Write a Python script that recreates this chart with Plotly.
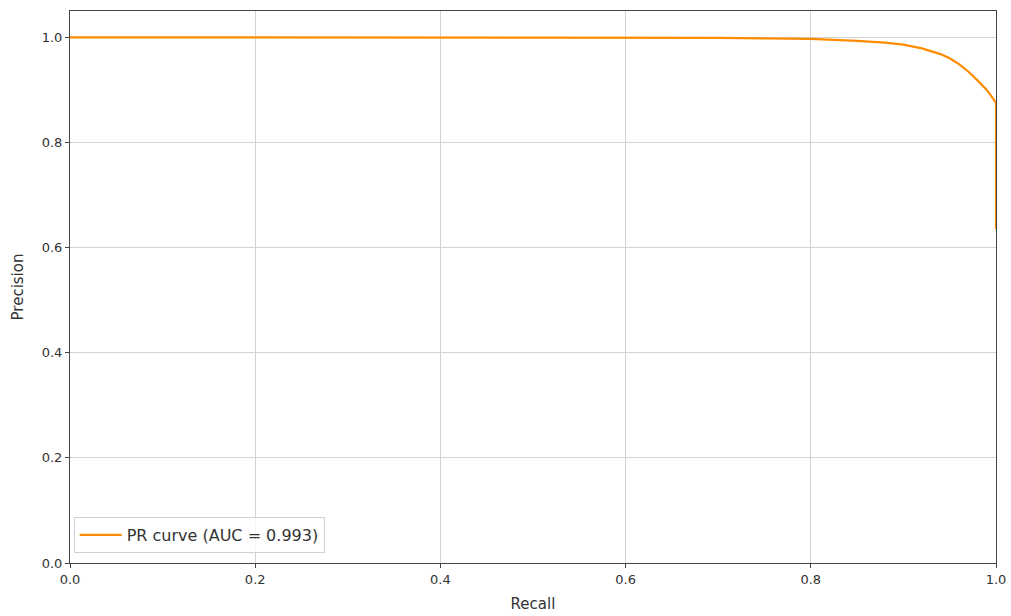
import plotly.graph_objects as go

recall = [0.0, 0.1, 0.2, 0.3, 0.4, 0.5, 0.6, 0.7, 0.75, 0.8, 0.85, 0.88, 0.9,
          0.92, 0.94, 0.95, 0.96, 0.97, 0.98, 0.99, 0.995, 1.0, 1.0]
precision = [1.0, 1.0, 1.0, 1.0, 1.0, 1.0, 0.9995, 0.999, 0.998, 0.997, 0.993,
             0.99, 0.986, 0.979, 0.968, 0.96, 0.949, 0.935, 0.918, 0.9, 0.888,
             0.875, 0.635]
tick_vals = [0.0, 0.2, 0.4, 0.6, 0.8, 1.0]
tick_text = ["0.0", "0.2", "0.4", "0.6", "0.8", "1.0"]

fig = go.Figure()
fig.add_trace(go.Scatter(x=recall, y=precision, mode="lines",
                         line=dict(color="#FF8C00", width=2.2),
                         name="PR curve (AUC = 0.993)"))

axis_common = dict(showline=True, linecolor="#444", linewidth=1, mirror=True,
                   showgrid=True, gridcolor="#d3d3d3", gridwidth=1,
                   ticks="outside", ticklen=4, tickcolor="#444",
                   tickvals=tick_vals, ticktext=tick_text, zeroline=False,
                   automargin=False,
                   tickfont=dict(family="DejaVu Sans", size=13, color="#333"))

fig.update_layout(
    width=1011, height=616,
    margin=dict(l=70, r=15, t=11, b=53),
    paper_bgcolor="white", plot_bgcolor="white",
    font=dict(family="DejaVu Sans", size=13, color="#333"),
    xaxis=dict(range=[0, 1], title=dict(text="Recall", standoff=12,
               font=dict(size=15)), **axis_common),
    yaxis=dict(range=[0, 1.05], title=dict(text="Precision", standoff=14,
               font=dict(size=15)), **axis_common),
    legend=dict(x=0.004, y=0.018, xanchor="left", yanchor="bottom",
                bgcolor="rgba(255,255,255,0.8)", bordercolor="#d0d0d0",
                borderwidth=1, font=dict(size=16), itemwidth=42),
    showlegend=True,
)

fig.write_html("out.html")
